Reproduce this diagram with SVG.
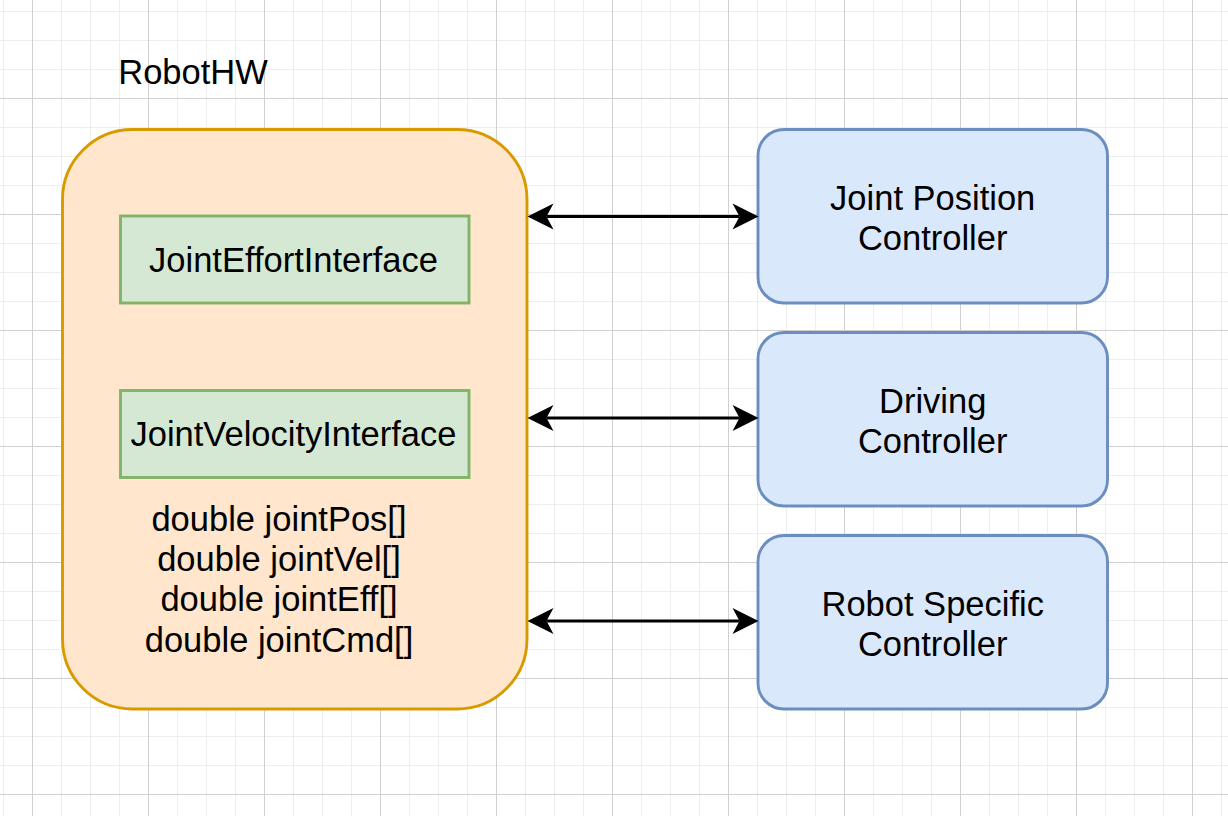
<svg xmlns="http://www.w3.org/2000/svg" width="1228" height="816" viewBox="0 0 1228 816">
  <defs>
    <pattern id="grid" patternUnits="userSpaceOnUse" x="32" y="-18" width="116" height="116">
      <path d="M29.5,0 V116 M58.5,0 V116 M87.5,0 V116 M0,29.5 H116 M0,58.5 H116 M0,87.5 H116" stroke="#eeeeee" stroke-width="1" fill="none"/>
      <path d="M0.5,0 V116 M0,0.5 H116" stroke="#d0d0d0" stroke-width="1" fill="none"/>
    </pattern>
    <marker id="arrow" markerUnits="userSpaceOnUse" markerWidth="26" markerHeight="26" refX="7" refY="13" orient="auto-start-reverse" overflow="visible">
      <path d="M0,0 L26,13 L0,26 L7,13 Z" fill="#000000"/>
    </marker>
  </defs>
  <style>
    .lbl { font-family: "Liberation Sans", Arial, Helvetica, sans-serif; font-size: 34.5px; fill: #000000; text-anchor: middle; }
    .hw { fill: #ffe6cc; stroke: #d79b00; stroke-width: 2.9; }
    .iface { fill: #d5e8d4; stroke: #82b366; stroke-width: 2.9; }
    .ctrl { fill: #dae8fc; stroke: #6c8ebf; stroke-width: 2.9; }
    .conn { stroke: #000000; stroke-width: 2.9; fill: none; }
  </style>
  <rect x="0" y="0" width="1228" height="816" fill="#ffffff"/>
  <rect x="0" y="0" width="1228" height="816" fill="url(#grid)"/>

  <g id="robothw-label">
    <text class="lbl" x="193" y="84">RobotHW</text>
  </g>

  <g id="robothw">
    <rect class="hw" x="62.5" y="129.5" width="464.5" height="579.5" rx="70" ry="70"/>
    <text class="lbl" x="279" y="531">double jointPos[]</text>
    <text class="lbl" x="279" y="571">double jointVel[]</text>
    <text class="lbl" x="279" y="611">double jointEff[]</text>
    <text class="lbl" x="279" y="651.5">double jointCmd[]</text>
  </g>

  <g id="joint-effort-interface">
    <rect class="iface" x="120.5" y="216" width="348.5" height="87"/>
    <text class="lbl" x="293.5" y="272">JointEffortInterface</text>
  </g>

  <g id="joint-velocity-interface">
    <rect class="iface" x="120.5" y="390.5" width="348.5" height="87"/>
    <text class="lbl" x="293.5" y="446">JointVelocityInterface</text>
  </g>

  <g id="joint-position-controller">
    <rect class="ctrl" x="758" y="129.5" width="349.5" height="173.5" rx="26" ry="26"/>
    <text class="lbl" x="932.7" y="209.5">Joint Position</text>
    <text class="lbl" x="932.7" y="249.5">Controller</text>
  </g>

  <g id="driving-controller">
    <rect class="ctrl" x="758" y="332.5" width="349.5" height="173.5" rx="26" ry="26"/>
    <text class="lbl" x="932.7" y="412.5">Driving</text>
    <text class="lbl" x="932.7" y="452.5">Controller</text>
  </g>

  <g id="robot-specific-controller">
    <rect class="ctrl" x="758" y="535.5" width="349.5" height="173.5" rx="26" ry="26"/>
    <text class="lbl" x="932.7" y="616">Robot Specific</text>
    <text class="lbl" x="932.7" y="656">Controller</text>
  </g>

  <g id="connectors">
    <path class="conn" d="M546.5,216.5 H739.5" marker-start="url(#arrow)" marker-end="url(#arrow)"/>
    <path class="conn" d="M546.5,418 H739.5" marker-start="url(#arrow)" marker-end="url(#arrow)"/>
    <path class="conn" d="M546.5,621 H739.5" marker-start="url(#arrow)" marker-end="url(#arrow)"/>
  </g>
</svg>
